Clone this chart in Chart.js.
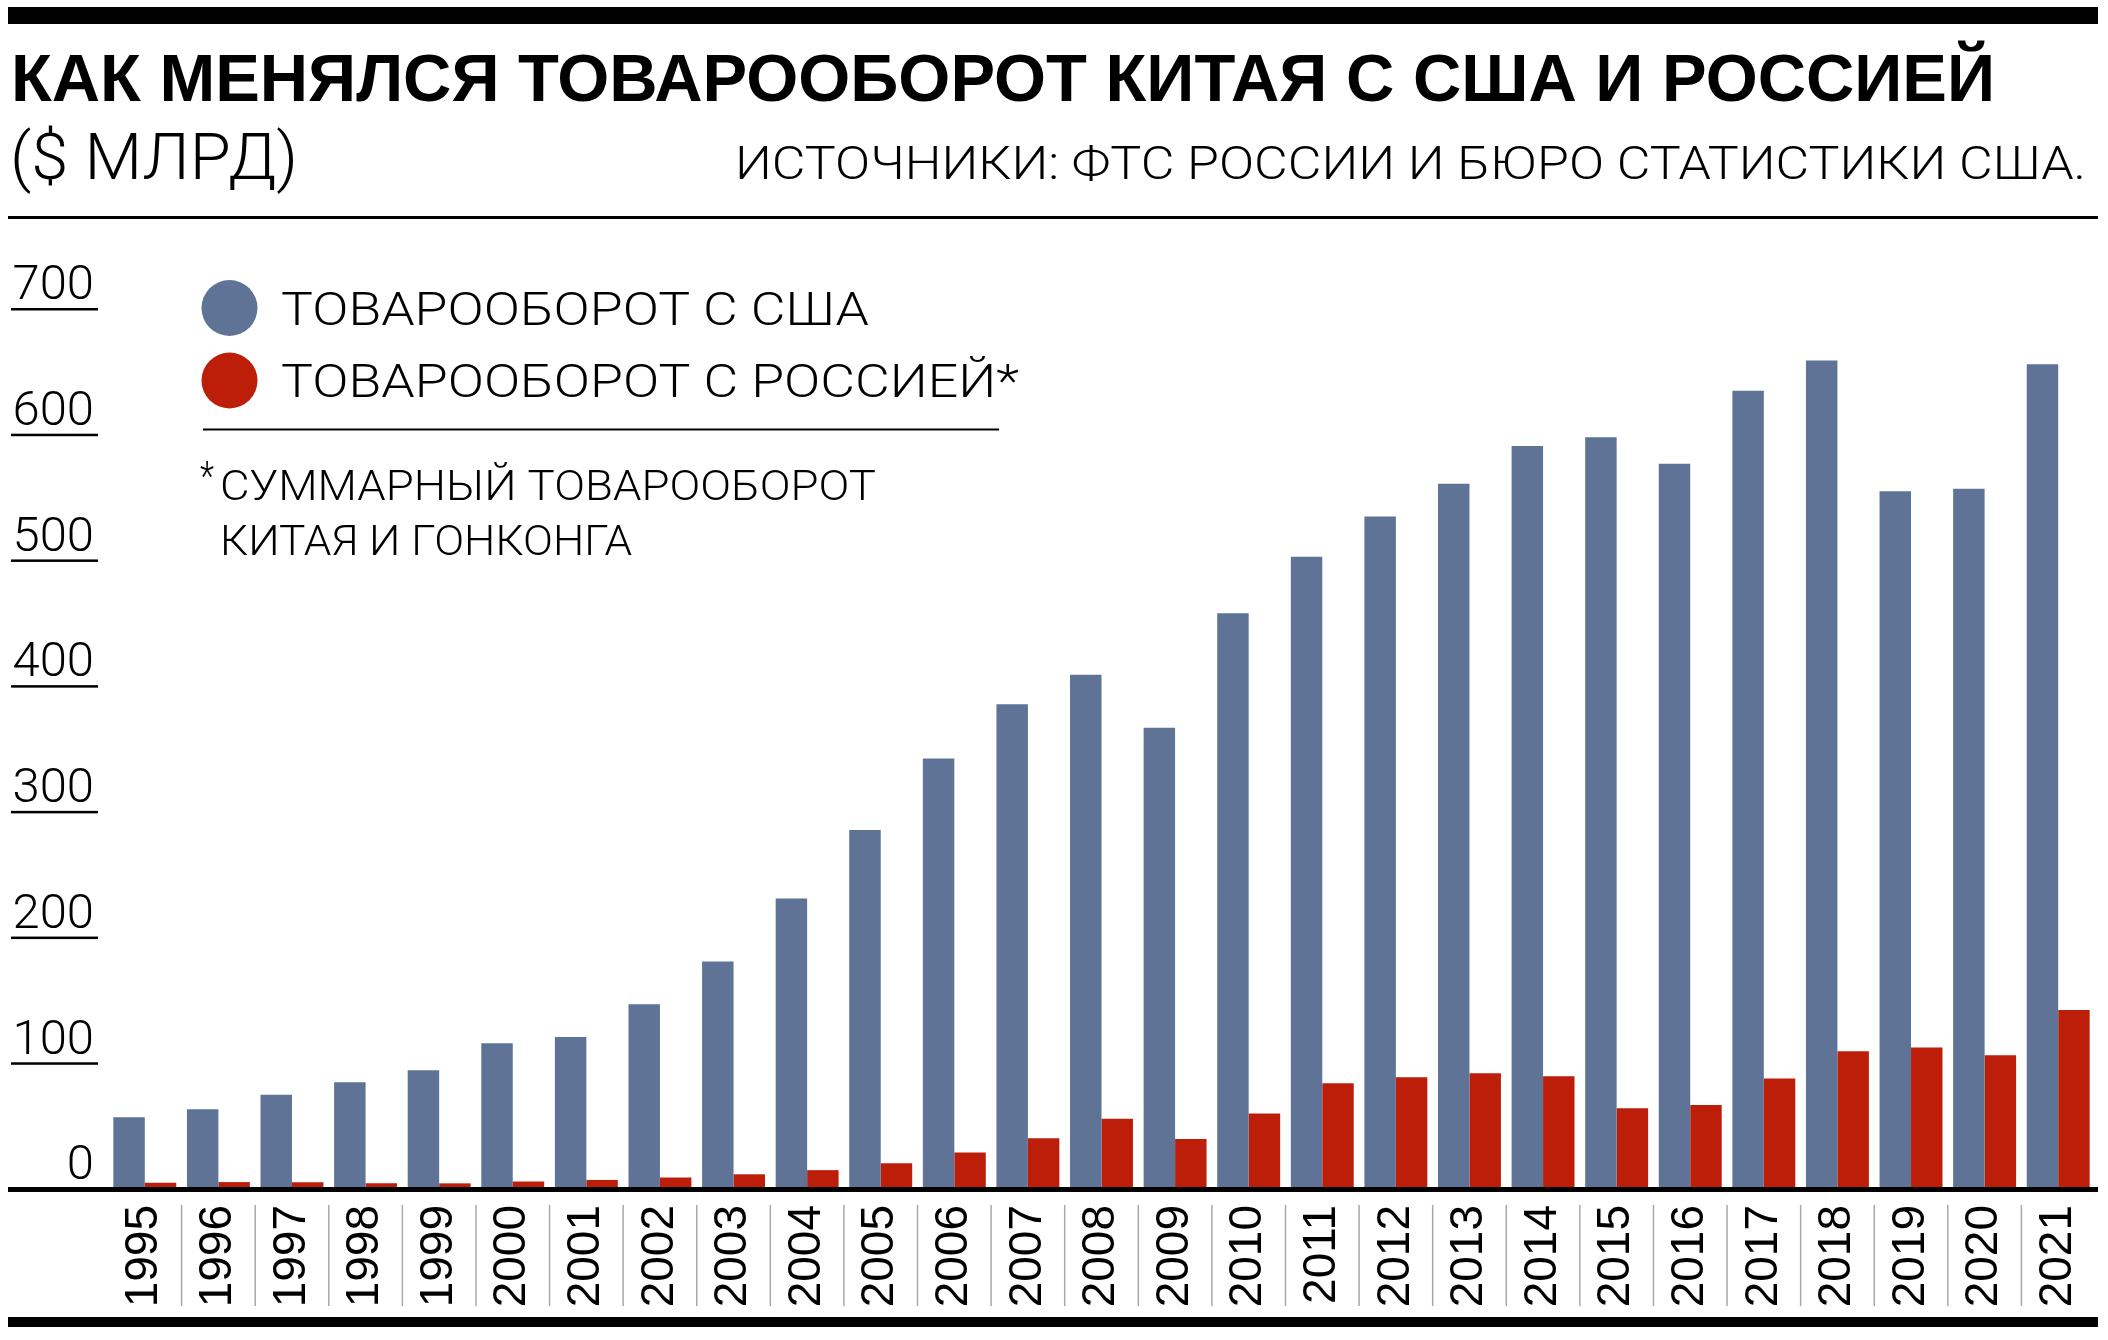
<!DOCTYPE html>
<html lang="ru">
<head>
<meta charset="utf-8">
<title>Товарооборот Китая с США и Россией</title>
<script src="https://cdn.jsdelivr.net/npm/chart.js@4.4.1/dist/chart.umd.min.js"></script>
<style>
  html, body { margin: 0; padding: 0; background: #fff; }
  #wrap { position: relative; width: 2108px; height: 1340px; }
</style>
</head>
<body>
<div id="wrap"><canvas id="tradeChart"></canvas></div>
<script>
// data, $ bn
const years = ['1995', '1996', '1997', '1998', '1999', '2000', '2001', '2002', '2003', '2004',
	'2005', '2006', '2007', '2008', '2009', '2010', '2011', '2012', '2013', '2014',
	'2015', '2016', '2017', '2018', '2019', '2020', '2021'];
const usTrade = [57, 63.5, 75, 85, 94.5, 116, 121, 147, 181, 231,
	285.5, 342.5, 385.5, 409, 367, 458, 503, 535, 561, 591,
	598, 577, 635, 659, 555, 557, 656];
const russiaTrade = [5, 5.5, 5.3, 4.5, 4.5, 6, 7.2, 9.1, 11.7, 15,
	20.5, 29, 40.4, 55.8, 39.8, 60, 84.2, 88.8, 92, 89.7,
	64.3, 66.9, 87.8, 109.6, 112.6, 106.4, 142.3];
const yTicks = [0, 100, 200, 300, 400, 500, 600, 700];

const titleText = 'КАК МЕНЯЛСЯ ТОВАРООБОРОТ КИТАЯ С США И РОССИЕЙ';
const unitText = '($ МЛРД)';
const sourceText = 'ИСТОЧНИКИ: ФТС РОССИИ И БЮРО СТАТИСТИКИ США.';
const legendLabels = ['ТОВАРООБОРОТ С США', 'ТОВАРООБОРОТ С РОССИЕЙ*'];
const noteLines = ['СУММАРНЫЙ ТОВАРООБОРОТ', 'КИТАЯ И ГОНКОНГА'];

const BLUE = '#5f7397';
const RED = '#bd1e0a';
const SANS = '"Liberation Sans", Arial, sans-serif';
const LIGHT = 'Roboto, "Liberation Sans", sans-serif';

// draw text squeezed (or stretched) to a given width
function fitText(ctx, text, x, y, width, font) {
	ctx.font = font;
	const w = ctx.measureText(text).width;
	ctx.save();
	ctx.translate(x, y);
	ctx.scale(width / w, 1);
	ctx.fillText(text, 0, 0);
	ctx.restore();
}

const decorPlugin = {
	id: 'decor',
	afterDraw(chart) {
		const ctx = chart.ctx;
		const xs = chart.scales.x;
		const ys = chart.scales.y;
		ctx.save();
		ctx.fillStyle = '#000';
		ctx.textAlign = 'left';
		ctx.textBaseline = 'alphabetic';

		// rules
		ctx.fillRect(8, 7, 2090, 17);
		ctx.fillRect(8, 216, 2090, 3);
		ctx.fillRect(8, 1317, 2090, 10);

		// header
		fitText(ctx, titleText, 11, 101, 1984, '900 66px ' + SANS);
		fitText(ctx, unitText, 10, 179, 288, '300 64px ' + LIGHT);
		fitText(ctx, sourceText, 735, 179, 1351, '300 46px ' + LIGHT);

		// legend
		[BLUE, RED].forEach((c, i) => {
			ctx.fillStyle = c;
			ctx.beginPath();
			ctx.arc(229.5, 308 + i * 72.5, 28, 0, Math.PI * 2);
			ctx.fill();
		});
		ctx.fillStyle = '#000';
		fitText(ctx, legendLabels[0], 281, 325, 588, '300 46px ' + LIGHT);
		fitText(ctx, legendLabels[1], 281, 397, 738, '300 46px ' + LIGHT);
		ctx.fillRect(203, 428.5, 796, 2);

		// footnote
		fitText(ctx, '*', 200, 490, 14, '300 40px ' + LIGHT);
		fitText(ctx, noteLines[0], 220, 500, 656, '300 42px ' + LIGHT);
		fitText(ctx, noteLines[1], 220, 555, 412, '300 42px ' + LIGHT);

		// short rules under the y labels
		yTicks.forEach((v) => {
			if (v === 0) return;
			const py = ys.getPixelForValue(v);
			ctx.fillRect(11, py - 1, 87, 2.5);
		});

		// baseline
		const y0 = ys.getPixelForValue(0);
		ctx.fillRect(8, y0 - 2, 2090, 5);

		// thin separators between year labels
		ctx.strokeStyle = '#a8a8a8';
		ctx.lineWidth = 1.5;
		for (let i = 1; i < years.length; i++) {
			const sx = (xs.getPixelForTick(i - 1) + xs.getPixelForTick(i)) / 2;
			ctx.beginPath();
			ctx.moveTo(sx, y0 + 16);
			ctx.lineTo(sx, y0 + 117);
			ctx.stroke();
		}
		ctx.restore();
	}
};

class TradeChart {

	constructor(canvasId) {
		this.canvas = document.getElementById(canvasId);
		this.chartJs = null;
	}

	initialize() {
		this.chartJs = new Chart(this.canvas, {
			type: 'bar',
			data: {
				labels: years,
				datasets: [
					{ label: legendLabels[0], data: usTrade, backgroundColor: BLUE },
					{ label: legendLabels[1], data: russiaTrade, backgroundColor: RED }
				]
			},
			options: {
				responsive: true,
				maintainAspectRatio: false,
				animation: false,
				devicePixelRatio: 1,
				categoryPercentage: 0.855,
				barPercentage: 1,
				borderWidth: 0,
				layout: { padding: { top: 309, right: 13, bottom: 0, left: 0 } },
				plugins: {
					legend: { display: false },
					title: { display: false },
					tooltip: { enabled: false }
				},
				scales: {
					x: {
						grid: { display: false, drawTicks: false },
						border: { display: false },
						ticks: {
							color: '#000',
							font: { family: SANS, size: 46 },
							minRotation: 90,
							maxRotation: 90,
							padding: 16,
							autoSkip: false
						},
						afterFit: (s) => {
							s.height = 151;
							s.paddingLeft = 0;
							s.paddingRight = 0;
						}
					},
					y: {
						min: 0,
						max: 700,
						afterBuildTicks: (s) => { s.ticks = yTicks.map((v) => ({ value: v })); },
						grid: { display: false, drawTicks: false },
						border: { display: false },
						ticks: {
							color: '#000',
							font: { family: LIGHT, size: 49, weight: '300' },
							padding: 14,
							labelOffset: -22
						},
						afterFit: (s) => { s.width = 108; }
					}
				}
			},
			plugins: [decorPlugin]
		});
	}
}

document.addEventListener('DOMContentLoaded', () => {
	const chart = new TradeChart('tradeChart');
	chart.initialize();
});
</script>
</body>
</html>
